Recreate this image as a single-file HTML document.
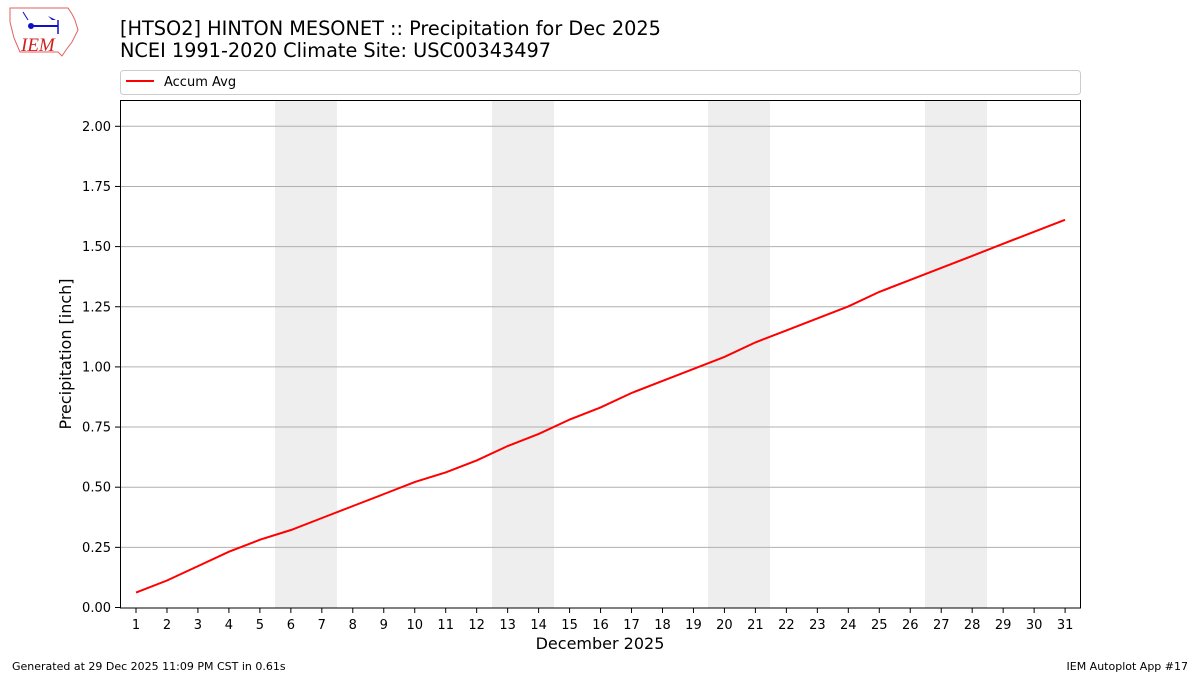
<!DOCTYPE html>
<html><head><meta charset="utf-8"><style>
body{margin:0;background:#fff;width:1200px;height:675px;overflow:hidden}
svg{display:block;font-family:"DejaVu Sans","Liberation Sans",sans-serif}
</style></head><body>
<svg id="s" width="1200" height="675" viewBox="0 0 1200 675">
<rect width="1200" height="675" fill="#fff"/>
<g>
<path d="M10,8 L68,8 L72,14 L75,20 L78,30 L72,42 L66,50 L62,56 L58,52 L20,52 L14,38 L10,22 Z" fill="none" stroke="#e06060" stroke-width="1"/>
<line x1="30" y1="26" x2="58" y2="26" stroke="#1010cc" stroke-width="2"/>
<circle cx="31" cy="26" r="3" fill="#1010cc"/>
<path d="M48,16 L56,20 L52,20 Z" fill="#1010cc"/>
<line x1="58" y1="20" x2="58" y2="34" stroke="#1010cc" stroke-width="1.5"/>
<line x1="23" y1="12" x2="28" y2="20" stroke="#1010cc" stroke-width="1"/>
<text x="21" y="51" font-family="Liberation Serif,serif" font-style="italic" font-size="19" fill="#d02020">IEM</text>
</g>
<text x="120" y="35" font-size="19.3" fill="#000">[HTSO2] HINTON MESONET :: Precipitation for Dec 2025</text>
<text x="120" y="57" font-size="19.3" fill="#000">NCEI 1991-2020 Climate Site: USC00343497</text>
<rect x="120.5" y="70.5" width="960" height="24" rx="3" fill="#fff" stroke="#ccc"/>
<line x1="126" y1="81" x2="154" y2="81" stroke="red" stroke-width="2"/>
<text x="164" y="86" font-size="13">Accum Avg</text>
<g id="shade" fill="#eeeeee">
<rect x="275" y="100" width="62" height="508"/>
<rect x="492" y="100" width="62" height="508"/>
<rect x="708" y="100" width="62" height="508"/>
<rect x="925" y="100" width="62" height="508"/>
</g>
<g id="grid"></g>
<polyline fill="none" stroke="red" stroke-width="2" points="136,592.6 167,580.5 198,566.1 229,551.7 260,539.7 291,530 322,518 353,506 384,494 415,481.9 446,472.3 477,460.3 508,445.9 539,433.8 570,419.4 600.6,407.4 631.5,393 662.5,380.9 693.5,368.9 724.4,356.9 755.4,342.4 786.4,330.4 817.3,318.4 848.3,306.4 879.3,291.9 910.2,279.9 941.2,267.9 972.2,255.9 1003,243.8 1034,231.8 1065,219.8"/>
<rect x="120.5" y="100.5" width="960" height="507.5" fill="none" stroke="#000" stroke-width="1"/>
<g id="ticks"></g>
<text x="600" y="649" font-size="16" text-anchor="middle">December 2025</text>
<text x="71" y="354" font-size="16" text-anchor="middle" transform="rotate(-90 71 354)">Precipitation [inch]</text>
<text x="12" y="670" font-size="11">Generated at 29 Dec 2025 11:09 PM CST in 0.61s</text>
<text x="1188" y="670" font-size="11" text-anchor="end">IEM Autoplot App #17</text>
</svg>
<script>
var NS="http://www.w3.org/2000/svg",g=document.getElementById("grid"),t=document.getElementById("ticks");
function el(p,n,a,txt){var e=document.createElementNS(NS,n);for(var k in a)e.setAttribute(k,a[k]);if(txt)e.textContent=txt;p.appendChild(e);}
for(var i=0;i<=8;i++){var y=607.5-i*60.15;var v=(i*0.25).toFixed(2);
 if(i>0)el(g,"line",{x1:120,x2:1080,y1:y,y2:y,stroke:"#b0b0b0","stroke-width":1});
 el(t,"line",{x1:115,x2:120,y1:y,y2:y,stroke:"#000"});
 el(t,"text",{x:111,y:y+4.5,"font-size":13,"text-anchor":"end"},v);}
for(var d=1;d<=31;d++){var x=136+(d-1)*30.97;
 el(t,"line",{x1:x,x2:x,y1:608,y2:613,stroke:"#000"});
 el(t,"text",{x:x,y:629,"font-size":13,"text-anchor":"middle"},""+d);}
</script>
</body></html>
